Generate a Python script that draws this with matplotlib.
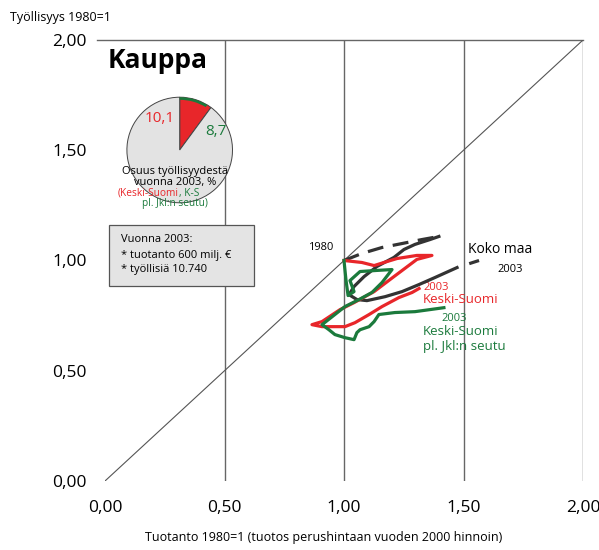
import numpy as np
import matplotlib.pyplot as plt
from matplotlib.patches import Rectangle

plt.rcParams['font.family'] = ['Open Sans', 'DejaVu Sans']

# Koko maa: index 0-5 dashed (1980 ->), then solid, last segment dashed (-> 2003)
koko_x = [1.00, 1.075, 1.159, 1.243, 1.326, 1.397, 1.360, 1.297, 1.251, 1.209, 1.138,
          1.084, 1.042, 1.021, 1.054, 1.096, 1.172, 1.243, 1.314, 1.381, 1.473, 1.565]
koko_y = [1.00, 1.032, 1.059, 1.077, 1.095, 1.109, 1.095, 1.073, 1.050, 1.014, 0.973,
          0.927, 0.882, 0.845, 0.823, 0.818, 0.836, 0.859, 0.891, 0.923, 0.968, 1.000]

# Keski-Suomi
ks_x = [1.00, 1.075, 1.126, 1.167, 1.222, 1.305, 1.368, 1.305, 1.209, 1.126, 1.042,
        0.983, 0.908, 0.866, 0.908, 1.004, 1.046, 1.105, 1.159, 1.230, 1.285, 1.314]
ks_y = [1.00, 0.991, 0.977, 0.991, 1.009, 1.023, 1.023, 1.005, 0.927, 0.859, 0.809,
        0.777, 0.723, 0.709, 0.700, 0.700, 0.718, 0.755, 0.791, 0.832, 0.855, 0.873]

# Keski-Suomi pl. Jkl:n seutu
ksj_x = [1.00, 1.008, 1.017, 1.042, 1.025, 1.067, 1.138, 1.201, 1.159, 1.117, 1.063,
         1.004, 0.962, 0.908, 0.937, 0.962, 1.004, 1.042, 1.054, 1.067, 1.105, 1.126,
         1.146, 1.213, 1.297, 1.418]
ksj_y = [1.00, 0.914, 0.841, 0.859, 0.909, 0.950, 0.955, 0.959, 0.900, 0.855, 0.823,
         0.791, 0.755, 0.709, 0.686, 0.664, 0.650, 0.641, 0.673, 0.686, 0.700, 0.723,
         0.755, 0.764, 0.768, 0.786]

ticks = [0.0, 0.5, 1.0, 1.5, 2.0]
tick_labels = ['0,00', '0,50', '1,00', '1,50', '2,00']

# osuus työllisyydestä 2003, %
share_ks = 10.1
share_ksj = 8.7

RED = '#e8262a'
GREEN = '#1b7a3c'
DARK = '#333333'

fig = plt.figure(figsize=(5.99, 5.5), dpi=100)
ax = fig.add_axes([105/599, 69/550, 478/599, 441/550])
ax.set_xlim(0, 2)
ax.set_ylim(0, 2)
for s in ax.spines.values():
    s.set_visible(False)
ax.set_xticks(ticks)
ax.set_xticklabels(tick_labels)
ax.set_yticks(ticks)
ax.set_yticklabels(tick_labels)
ax.tick_params(length=0, labelsize=12.5, pad=14)
ax.tick_params(axis='y', pad=13)

# grid
for t in ticks[1:]:
    ax.axvline(t, color='#666666', lw=1.0, zorder=1)
ax.axhline(2.0, xmin=-0.017, xmax=1, color='#666666', lw=1.0, zorder=1, clip_on=False)
ax.plot([0, 2], [0, 2], color='#555555', lw=0.8, zorder=1)

# trajectories
ax.plot(koko_x[:6], koko_y[:6], color=DARK, lw=2.3, ls=(0, (5, 3)), zorder=4)
ax.plot(koko_x[5:-1], koko_y[5:-1], color=DARK, lw=2.3, zorder=4)
ax.plot(koko_x[-2:], koko_y[-2:], color=DARK, lw=2.3, ls=(4, (4, 4)), zorder=4)
ax.plot(ks_x, ks_y, color=RED, lw=2.3, zorder=5)
ax.plot(ksj_x, ksj_y, color=GREEN, lw=2.3, zorder=6)

ax.text(0.955, 1.057, '1980', fontsize=8, ha='right', va='center')
ax.text(1.519, 1.052, 'Koko maa', fontsize=10, va='center')
ax.text(1.64, 0.961, '2003', fontsize=8, va='center')
ax.text(1.331, 0.877, '2003', fontsize=8, color=RED, va='center')
ax.text(1.329, 0.821, 'Keski-Suomi', fontsize=9.5, color=RED, va='center')
ax.text(1.409, 0.735, '2003', fontsize=8, color=GREEN, va='center')
ax.text(1.329, 0.677, 'Keski-Suomi', fontsize=9.5, color=GREEN, va='center')
ax.text(1.329, 0.612, 'pl. Jkl:n seutu', fontsize=9.5, color=GREEN, va='center')

# info box
ax.add_patch(Rectangle((0.017, 0.884), 0.606, 0.277, facecolor='#e4e4e4',
                       edgecolor='#555555', lw=0.9, zorder=3))
ax.text(0.067, 1.093, 'Vuonna 2003:', fontsize=8, va='center', zorder=4)
ax.text(0.067, 1.022, '* tuotanto 600 milj. €', fontsize=8, va='center', zorder=4)
ax.text(0.067, 0.960, '* työllisiä 10.740', fontsize=8, va='center', zorder=4)

# pie
pax = fig.add_axes([(179.7 - 66)/599, (550 - 150 - 66)/550, 132/599, 132/550])
pax.pie([share_ks, 100 - share_ks], colors=[RED, '#e3e3e3'], startangle=90,
        counterclock=False, wedgeprops=dict(edgecolor='#444444', linewidth=0.7))
pax.pie([share_ksj, 100 - share_ksj], colors=[GREEN, 'none'], startangle=90,
        counterclock=False, radius=1.0, wedgeprops=dict(width=0.05, linewidth=0))
pax.set_aspect('equal')
pax.axis('off')

# pie texts on figure level so they sit above the pie
td = ax.transData
fig.text(0.23, 1.642, '10,1', fontsize=11, color=RED, ha='center', va='center', transform=td)
fig.text(0.464, 1.587, '8,7', fontsize=11, color=GREEN, ha='center', va='center', transform=td)
fig.text(0.293, 1.403, 'Osuus työllisyydestä', fontsize=8, ha='center', va='center', transform=td)
fig.text(0.293, 1.355, 'vuonna 2003, %', fontsize=8, ha='center', va='center', transform=td)
fig.text(0.31, 1.305, '(Keski-Suomi', fontsize=7.3, color=RED, ha='right', va='center',
         transform=td)
fig.text(0.31, 1.305, ', K-S', fontsize=7.3, color=GREEN, ha='left', va='center',
         transform=td)
fig.text(0.293, 1.259, 'pl. Jkl:n seutu)', fontsize=7.3, color=GREEN, ha='center',
         va='center', transform=td)

fig.text(108/599, 1 - 60/550, 'Kauppa', fontsize=19, fontweight='bold', va='center')
fig.text(10/599, 1 - 17/550, 'Työllisyys 1980=1', fontsize=9, va='center')
fig.text(324/599, 1 - 537/550, 'Tuotanto 1980=1 (tuotos perushintaan vuoden 2000 hinnoin)',
         fontsize=9, ha='center', va='center')

fig.savefig('out.png', dpi=100)
